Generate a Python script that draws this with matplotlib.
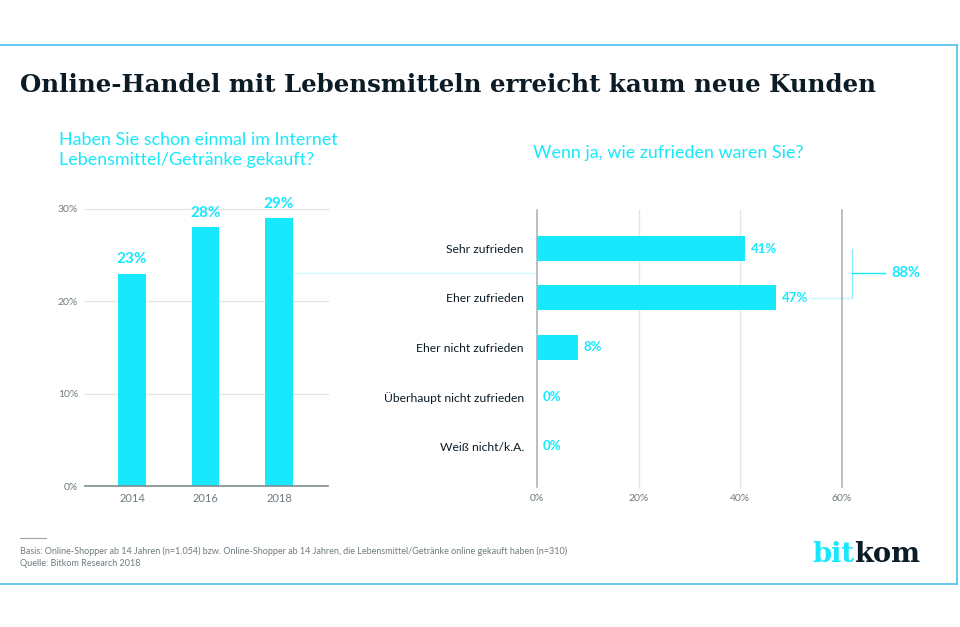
import matplotlib
matplotlib.use("Agg")
import matplotlib.pyplot as plt
from matplotlib.lines import Line2D

# ---------------- data ----------------
years = ["2014", "2016", "2018"]
share_bought = [23, 28, 29]
left_ticks = [0, 10, 20, 30]

satisfaction_labels = ["Sehr zufrieden", "Eher zufrieden", "Eher nicht zufrieden",
                       "Überhaupt nicht zufrieden", "Weiß nicht/k.A."]
satisfaction_values = [41, 47, 8, 0, 0]
right_ticks = [0, 20, 40, 60]

title = "Online-Handel mit Lebensmitteln erreicht kaum neue Kunden"
sub_left = ["Haben Sie schon einmal im Internet", "Lebensmittel/Getränke gekauft?"]
sub_right = "Wenn ja, wie zufrieden waren Sie?"
note1 = ("Basis: Online-Shopper ab 14 Jahren (n=1.054) bzw. Online-Shopper ab 14 Jahren, "
         "die Lebensmittel/Getränke online gekauft haben (n=310)")
note2 = "Quelle: Bitkom Research 2018"

# ---------------- style ----------------
CYAN = "#17e8fc"
DARK = "#0c1c27"
GRAY = "#6f7b80"
GRID = "#e2e6e7"
AXIS = "#a3b0b2"
FRAME = "#45c4ef"
SANS = ["Lato", "DejaVu Sans"]

W, H = 960, 627
fig = plt.figure(figsize=(W / 100, H / 100), dpi=100)
fig.patch.set_facecolor("white")


def fx(x):
    return x / W


def fy(y):
    return 1 - y / H


renderer = fig.canvas.get_renderer()


def fit(t, width_px):
    bb = t.get_window_extent(renderer)
    t.set_fontsize(t.get_fontsize() * width_px / bb.width)
    return t


# frame
fig.add_artist(Line2D([0, fx(957)], [fy(45), fy(45)], color=FRAME, lw=1.2))
fig.add_artist(Line2D([fx(957), fx(957)], [fy(45), fy(584)], color=FRAME, lw=1.2))
fig.add_artist(Line2D([0, fx(957)], [fy(584), fy(584)], color=FRAME, lw=1.2))

# title
t = fig.text(fx(20), fy(92), title, family="DejaVu Serif", weight="bold",
             color=DARK, fontsize=20, va="baseline", ha="left")
fit(t, 860)

# subtitles
t = fig.text(fx(59), fy(145), sub_left[0], family=SANS, color=CYAN, fontsize=12,
             va="baseline", ha="left")
fit(t, 278)
fs_sub = t.get_fontsize()
fig.text(fx(59), fy(165), sub_left[1], family=SANS, color=CYAN, fontsize=fs_sub,
         va="baseline", ha="left")
fig.text(fx(533), fy(158), sub_right, family=SANS, color=CYAN, fontsize=fs_sub,
         va="baseline", ha="left")

# ---------------- left chart ----------------
axL = fig.add_axes([fx(85), fy(486), (328 - 85) / W, (486 - 209) / H])
xpos = list(range(len(years)))
axL.bar(xpos, share_bought, width=0.38, color=CYAN, zorder=3)
axL.set_ylim(0, 30)
axL.set_xlim(-0.64, 2.667)
for v in left_ticks[1:]:
    axL.axhline(v, color=GRID, lw=1, zorder=1, clip_on=False)
axL.axhline(0, color="#7f8c8d", lw=1.2, zorder=4, clip_on=False)
for s in axL.spines.values():
    s.set_visible(False)
axL.set_yticks(left_ticks)
axL.set_yticklabels([f"{v}%" for v in left_ticks], family=SANS, color=GRAY, fontsize=7.5)
axL.set_xticks(xpos)
axL.set_xticklabels(years, family=SANS, color=GRAY, fontsize=8)
axL.tick_params(axis="y", length=0, pad=5)
axL.tick_params(axis="x", length=0, pad=5)
axL.patch.set_alpha(0)
for x, v in zip(xpos, share_bought):
    axL.annotate(f"{v}%", (x, v), xytext=(0, 5.5), textcoords="offset points",
                 ha="center", va="bottom", color=CYAN, weight="bold",
                 family=SANS, fontsize=11)

# ---------------- right chart ----------------
axR = fig.add_axes([fx(537), fy(487), (842 - 537) / W, (487 - 210) / H])
ypos = list(range(len(satisfaction_labels)))
axR.barh(ypos, satisfaction_values, height=0.506, color=CYAN, zorder=3)
axR.set_xlim(0, 60)
axR.set_ylim(4.83, -0.78)
for v in right_ticks:
    c = AXIS if v in (0, 60) else GRID
    axR.axvline(v, color=c, lw=1.1 if c == AXIS else 1,
                zorder=4 if c == AXIS else 1, clip_on=False)
for s in axR.spines.values():
    s.set_visible(False)
axR.set_xticks(right_ticks)
axR.set_xticklabels([f"{v}%" for v in right_ticks], family=SANS, color=GRAY, fontsize=7.5)
axR.set_yticks(ypos)
axR.set_yticklabels(satisfaction_labels, family=SANS, color=DARK, fontsize=8.7)
axR.tick_params(axis="y", length=0, pad=9.5)
axR.tick_params(axis="x", length=0, pad=5)
axR.patch.set_alpha(0)
for y, v in zip(ypos, satisfaction_values):
    axR.annotate(f"{v}%", (v, y), xytext=(4, 0), textcoords="offset points",
                 ha="left", va="center", color=CYAN, weight="bold",
                 family=SANS, fontsize=9.5)

# connector from left chart
axR.plot([-47.6, 0], [0.5, 0.5], color="#d6f7fc", lw=1, clip_on=False, zorder=0)

# bracket summing top two
total = satisfaction_values[0] + satisfaction_values[1]
bx = 62
axR.plot([bx, bx], [0, 1], color="#8deff9", lw=1, clip_on=False)
axR.plot([bx, 68.5], [0.5, 0.5], color=CYAN, lw=1, clip_on=False)
axR.plot([54, bx], [1, 1], color="#c8f6fc", lw=1, clip_on=False)
axR.text(69.8, 0.5, f"{total}%", ha="left", va="center", color=CYAN,
         weight="bold", family=SANS, fontsize=10.5, clip_on=False)

# ---------------- footer ----------------
fig.add_artist(Line2D([fx(20), fx(46)], [fy(538), fy(538)], color="#9aa4a8", lw=0.8))
t = fig.text(fx(20), fy(551), note1, family=SANS, color=GRAY, fontsize=6,
             va="center", ha="left")
fit(t, 550)
fs_note = t.get_fontsize()
fig.text(fx(20), fy(563), note2, family=SANS, color=GRAY, fontsize=fs_note,
         va="center", ha="left")

# logo
LOGO = dict(family="DejaVu Serif", weight="semibold", va="baseline", ha="left")
tb = fig.text(fx(812), fy(562), "bit", color=CYAN, fontsize=22, **LOGO)
tk = fig.text(fx(812), fy(562), "kom", color=DARK, fontsize=22, **LOGO)
wb = tb.get_window_extent(renderer).width
wk = tk.get_window_extent(renderer).width
scale = 108 / (wb + wk)
tb.set_fontsize(22 * scale)
tk.set_fontsize(22 * scale)
wb = tb.get_window_extent(renderer).width
tk.set_x(fx(812 + wb))

fig.savefig("out.png", dpi=100, facecolor="white")
